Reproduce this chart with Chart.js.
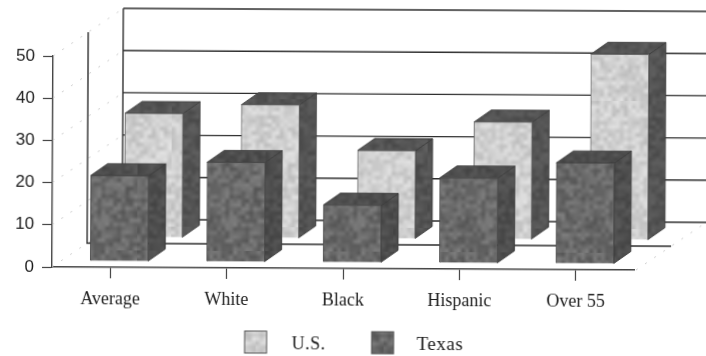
<!DOCTYPE html>
<html>
<head>
<meta charset="utf-8">
<style>
  html, body { margin: 0; padding: 0; background: #fff; overflow: hidden; }
  canvas { display: block; transform-origin: 52px 267px; transform: rotate(0.3deg); }
</style>
<script src="https://cdn.jsdelivr.net/npm/chart.js@4"></script>
</head>
<body>
<canvas id="chart" width="706" height="356"></canvas>
<script>
// Survey values by group
const categories = ['Average', 'White', 'Black', 'Hispanic', 'Over 55'];
const usValues = [29.4, 31.6, 20.9, 27.8, 44];
const texasValues = [20.3, 23.6, 13.6, 20.2, 23.9];
const yTicks = [0, 10, 20, 30, 40, 50];

// Projection of the depth axis on screen
const wallShift = { x: 70, y: -48 };
const barDepth = { x: 17, y: -12 };
const rowShift = { us: { x: 43, y: -30 }, texas: { x: 9, y: -6 } };
const axisOverrun = 2;

// Mottled fill: a coarse deterministic grain, enlarged with smoothing
function mottled(base, spread) {
  const coarse = document.createElement('canvas');
  coarse.width = coarse.height = 32;
  const c = coarse.getContext('2d');
  for (let i = 0; i < 32; i++) {
    for (let j = 0; j < 32; j++) {
      const h = Math.sin(i * 127.1 + j * 311.7) * 43758.5453;
      const v = Math.round(base + (h - Math.floor(h) - 0.5) * spread);
      c.fillStyle = `rgb(${v},${v},${v})`;
      c.fillRect(i, j, 1, 1);
    }
  }
  const tile = document.createElement('canvas');
  tile.width = tile.height = 128;
  const t = tile.getContext('2d');
  t.imageSmoothingEnabled = true;
  t.drawImage(coarse, 0, 0, 128, 128);
  return document.getElementById('chart').getContext('2d').createPattern(tile, 'repeat');
}

const usFront = mottled(208, 38);
const texasFront = mottled(106, 42);
const usDark = mottled(84, 24);
const texasDark = mottled(78, 24);

// Back wall, middle plane and the dotted links from the front axis
const wallPlugin = {
  id: 'wall',
  beforeDatasetsDraw(chart) {
    const { ctx, chartArea: a, scales: { y } } = chart;
    const top = y.getPixelForValue(50), zero = y.getPixelForValue(0);
    const right = a.right + axisOverrun;
    ctx.save();
    ctx.lineWidth = 1.4;
    ctx.strokeStyle = '#2e2e2e';
    yTicks.forEach(v => {
      const py = y.getPixelForValue(v) + wallShift.y;
      ctx.beginPath();
      ctx.moveTo(a.left + wallShift.x, py);
      ctx.lineTo(right + wallShift.x, py);
      ctx.stroke();
    });
    ctx.beginPath();
    ctx.moveTo(a.left + wallShift.x, top + wallShift.y);
    ctx.lineTo(a.left + wallShift.x, zero + wallShift.y);
    ctx.stroke();
    ctx.beginPath();
    ctx.moveTo(a.left + wallShift.x / 2, top + wallShift.y / 2);
    ctx.lineTo(a.left + wallShift.x / 2, zero + wallShift.y / 2);
    ctx.lineTo(right + wallShift.x / 2, zero + wallShift.y / 2);
    ctx.stroke();
    ctx.strokeStyle = '#c4c4c4';
    ctx.lineWidth = 0.9;
    ctx.setLineDash([2, 9]);
    yTicks.forEach(v => {
      const py = y.getPixelForValue(v);
      ctx.beginPath();
      ctx.moveTo(a.left, py);
      ctx.lineTo(a.left + wallShift.x, py + wallShift.y);
      ctx.stroke();
    });
    ctx.beginPath();
    ctx.moveTo(right, zero);
    ctx.lineTo(right + wallShift.x, zero + wallShift.y);
    ctx.stroke();
    ctx.restore();
  }
};

// Extrudes each bar: moves the row back and adds side and top faces
const extrudePlugin = {
  id: 'extrude',
  beforeDatasetDraw(chart, args) {
    const { ctx } = chart;
    const ds = chart.data.datasets[args.index];
    const shift = rowShift[ds.rowKey];
    ctx.save();
    ctx.translate(shift.x, shift.y);
    args.meta.data.forEach(bar => {
      const l = bar.x - bar.width / 2, r = bar.x + bar.width / 2;
      const t = bar.y, b = bar.base;
      ctx.strokeStyle = '#3a3a3a';
      ctx.lineWidth = 0.8;
      ctx.fillStyle = ds.sideFill;
      ctx.beginPath();
      ctx.moveTo(r, t);
      ctx.lineTo(r + barDepth.x, t + barDepth.y);
      ctx.lineTo(r + barDepth.x, b + barDepth.y);
      ctx.lineTo(r, b);
      ctx.closePath();
      ctx.fill();
      ctx.stroke();
      ctx.fillStyle = ds.topFill;
      ctx.beginPath();
      ctx.moveTo(l, t);
      ctx.lineTo(l + barDepth.x, t + barDepth.y);
      ctx.lineTo(r + barDepth.x, t + barDepth.y);
      ctx.lineTo(r, t);
      ctx.closePath();
      ctx.fill();
      ctx.stroke();
    });
  },
  afterDatasetDraw(chart) {
    chart.ctx.restore();
  }
};

// Legend with wide swatch-to-text spacing, centred under the plot
const legendPlugin = {
  id: 'keyRow',
  afterDraw(chart) {
    const { ctx } = chart;
    const slots = [{ box: 245, text: 292, size: 18 }, { box: 372, text: 417, size: 19 }];
    ctx.save();
    chart.data.datasets.forEach((ds, i) => {
      ctx.fillStyle = ds.backgroundColor;
      ctx.strokeStyle = '#555';
      ctx.lineWidth = 1;
      ctx.fillRect(slots[i].box, 330, 22, 22);
      ctx.strokeRect(slots[i].box, 330, 22, 22);
      ctx.fillStyle = '#1c1c1c';
      ctx.font = slots[i].size + 'px "Liberation Serif"';
      ctx.textBaseline = 'middle';
      ctx.letterSpacing = '0.5px';
      ctx.fillText(ds.label, slots[i].text, 343);
    });
    ctx.restore();
  }
};

new Chart(document.getElementById('chart'), {
  type: 'bar',
  data: {
    labels: categories,
    datasets: [
      { label: 'U.S.', data: usValues, order: 2, rowKey: 'us', clip: false,
        backgroundColor: usFront, borderColor: '#6a6a6a', borderWidth: 1,
        sideFill: usDark, topFill: usDark },
      { label: 'Texas', data: texasValues, order: 1, rowKey: 'texas', clip: false,
        backgroundColor: texasFront, borderColor: '#4a4a4a', borderWidth: 1,
        sideFill: texasDark, topFill: texasDark }
    ]
  },
  plugins: [wallPlugin, extrudePlugin, legendPlugin],
  options: {
    responsive: false,
    animation: false,
    events: [],
    layout: { padding: { top: 56, right: 72, left: 0, bottom: 0 } },
    datasets: { bar: { grouped: false, barThickness: 58 } },
    plugins: { legend: { display: false }, tooltip: { enabled: false } },
    scales: {
      x: {
        afterFit(s) { s.height = 89; },
        grid: { offset: false, drawOnChartArea: false, tickLength: 11, tickColor: '#444', tickWidth: 1.2 },
        border: { color: '#444', width: 1.6 },
        ticks: {
          color: '#1c1c1c', padding: 10, maxRotation: 0,
          font: { family: '"Liberation Serif"', size: 18 }
        }
      },
      y: {
        min: 0,
        max: 50,
        afterFit(s) { s.width = 52; },
        afterBuildTicks(s) { s.ticks = yTicks.map(value => ({ value })); },
        grid: { drawOnChartArea: false, tickLength: 10, tickColor: '#444', tickWidth: 1.2 },
        border: { color: '#444', width: 1.4 },
        ticks: {
          color: '#1c1c1c', padding: 8,
          font: { family: '"Liberation Sans"', size: 17 }
        }
      }
    }
  }
});
</script>
</body>
</html>
